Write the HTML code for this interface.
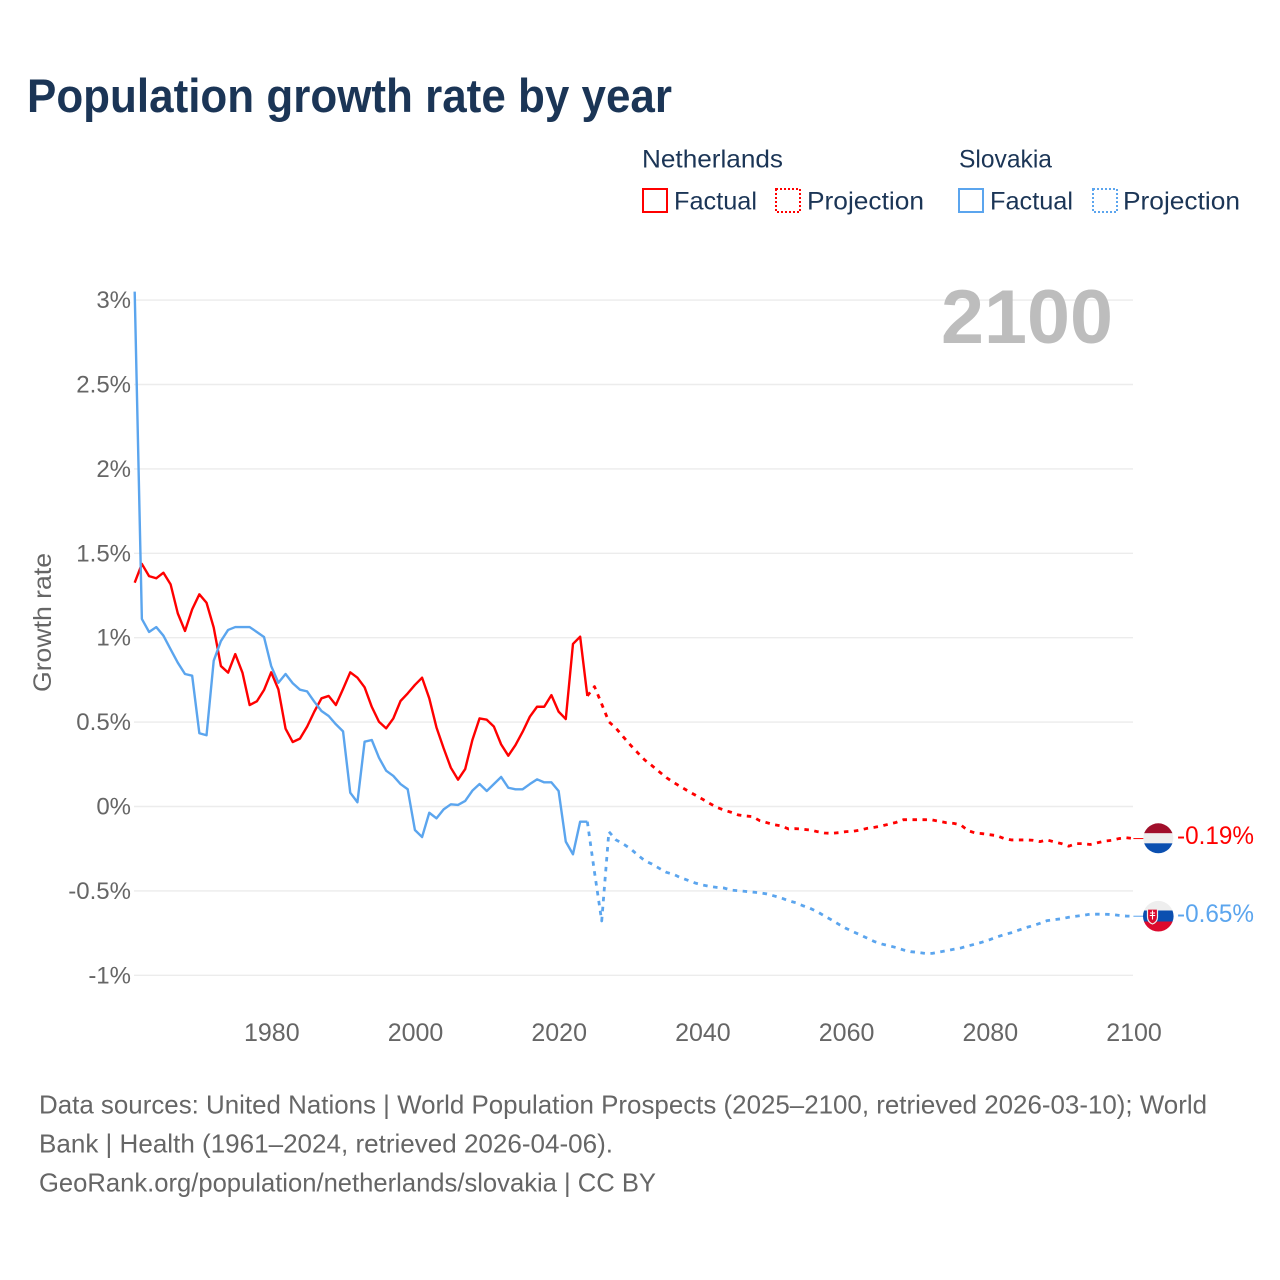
<!DOCTYPE html>
<html lang="en">
<head>
<meta charset="utf-8">
<title>Population growth rate by year</title>
<style>
  html, body { margin: 0; padding: 0; background: #fff; }
  svg { display: block; font-family: "Liberation Sans", sans-serif; }
</style>
</head>
<body>
<svg id="chart" xmlns="http://www.w3.org/2000/svg" width="1280" height="1280" viewBox="0 0 1280 1280">
  <rect width="1280" height="1280" fill="#fff"/>
  <text x="27" y="112" font-size="47" font-weight="700" fill="#1b3556" textLength="645" lengthAdjust="spacingAndGlyphs">Population growth rate by year</text>

  <g font-size="25" fill="#1b3556">
    <text x="642" y="167.5" textLength="141" lengthAdjust="spacingAndGlyphs">Netherlands</text>
    <text x="959" y="167.5" textLength="93" lengthAdjust="spacingAndGlyphs">Slovakia</text>
    <g>
      <rect x="643" y="189" width="24" height="23" fill="none" stroke="#ff0000" stroke-width="2"/>
      <text x="674" y="209.5" textLength="83" lengthAdjust="spacingAndGlyphs">Factual</text>
    </g>
    <g>
      <rect x="776" y="189" width="24" height="23" fill="none" stroke="#ff0000" stroke-width="2" stroke-dasharray="2 2"/>
      <text x="807" y="209.5" textLength="117" lengthAdjust="spacingAndGlyphs">Projection</text>
    </g>
    <g>
      <rect x="959" y="189" width="24" height="23" fill="none" stroke="#5ba5ee" stroke-width="2"/>
      <text x="990" y="209.5" textLength="83" lengthAdjust="spacingAndGlyphs">Factual</text>
    </g>
    <g>
      <rect x="1093" y="189" width="24" height="23" fill="none" stroke="#5ba5ee" stroke-width="2" stroke-dasharray="2 2"/>
      <text x="1123" y="209.5" textLength="117" lengthAdjust="spacingAndGlyphs">Projection</text>
    </g>
  </g>

  <g id="grid"></g>
  <g id="y-ticks" font-size="24" fill="#666" text-anchor="end"></g>
  <g id="x-ticks" font-size="25" fill="#666" text-anchor="middle"></g>
  <text transform="translate(51,622.5) rotate(-90)" font-size="25" fill="#666" text-anchor="middle" textLength="139" lengthAdjust="spacingAndGlyphs">Growth rate</text>
  <text x="1113" y="343" font-size="76" font-weight="700" fill="#bdbdbd" text-anchor="end" textLength="172" lengthAdjust="spacingAndGlyphs">2100</text>

  <g id="series" fill="none" stroke-linejoin="round"></g>

  <g>
    <clipPath id="clip-nl"><circle cx="1158.3" cy="838.3" r="15"/></clipPath>
    <g clip-path="url(#clip-nl)">
      <rect x="1143" y="823" width="31" height="10.3" fill="#a10f2b"/>
      <rect x="1143" y="833.3" width="31" height="10" fill="#eeeeee"/>
      <rect x="1143" y="843.3" width="31" height="11" fill="#0b4fb0"/>
    </g>
  </g>
  <g>
    <clipPath id="clip-sk"><circle cx="1158.3" cy="916.2" r="15.3"/></clipPath>
    <g clip-path="url(#clip-sk)">
      <rect x="1143" y="900" width="31" height="10.5" fill="#eeeeee"/>
      <rect x="1143" y="910.5" width="31" height="11" fill="#0b4fb0"/>
      <rect x="1143" y="921.5" width="31" height="11" fill="#dc0a2e"/>
      <path d="M1147.5 909 h10 v8 q0 5 -5 7 q-5 -2 -5 -7 z" fill="#dc0a2e" stroke="#eee" stroke-width="1.2"/>
      <path d="M1152.5 910.5 v9 M1150 913 h5 M1149.8 915.5 h5.4" stroke="#fff" stroke-width="1.1" fill="none"/>
    </g>
  </g>
  <text x="1177" y="844" font-size="25" fill="#ff0000" textLength="77" lengthAdjust="spacingAndGlyphs">-0.19%</text>
  <text x="1177" y="922" font-size="25" fill="#5ba5ee" textLength="77" lengthAdjust="spacingAndGlyphs">-0.65%</text>

  <g font-size="26" fill="#666">
    <text x="39" y="1113.5" textLength="1168" lengthAdjust="spacingAndGlyphs">Data sources: United Nations | World Population Prospects (2025–2100, retrieved 2026-03-10); World</text>
    <text x="39" y="1152.5" textLength="574" lengthAdjust="spacingAndGlyphs">Bank | Health (1961–2024, retrieved 2026-04-06).</text>
    <text x="39" y="1191.5" textLength="617" lengthAdjust="spacingAndGlyphs">GeoRank.org/population/netherlands/slovakia | CC BY</text>
  </g>
</svg>
<script>
const yTickValues = [3, 2.5, 2, 1.5, 1, 0.5, 0, -0.5, -1];
const xTickYears = [1980, 2000, 2020, 2040, 2060, 2080, 2100];
const factualStartYear = 1961;
const projectionStartYear = 2024;

const netherlandsFactual = [
  1.326,1.437,1.365,1.352,1.385,1.316,1.144,1.04,1.168,1.257,
  1.207,1.06,0.832,0.793,0.903,0.793,0.601,0.623,0.69,0.795,
  0.694,0.461,0.382,0.402,0.473,0.562,0.641,0.655,0.601,0.696,
  0.795,0.763,0.706,0.59,0.502,0.463,0.522,0.625,0.67,0.72,
  0.763,0.641,0.469,0.345,0.23,0.159,0.222,0.394,0.522,0.514,
  0.473,0.368,0.301,0.364,0.443,0.532,0.591,0.591,0.66,0.562,
  0.518,0.963,1.006,0.655
];
const slovakiaFactual = [
  3.05,1.111,1.034,1.063,1.012,0.931,0.852,0.785,0.775,0.434,
  0.422,0.864,0.98,1.046,1.063,1.063,1.063,1.034,1.004,0.832,
  0.733,0.785,0.73,0.692,0.682,0.621,0.566,0.536,0.487,0.445,
  0.082,0.025,0.384,0.394,0.289,0.212,0.181,0.133,0.102,-0.139,
  -0.181,-0.037,-0.07,-0.017,0.013,0.009,0.033,0.094,0.133,0.092,
  0.133,0.175,0.111,0.102,0.102,0.133,0.161,0.143,0.143,0.092,
  -0.208,-0.283,-0.09,-0.09
];
const netherlandsProjection = [
  0.655,0.71,0.607,0.502,0.463,0.413,0.364,
  0.319,0.275,0.242,0.206,0.171,0.143,0.117,0.092,0.068,0.044,
  0.019,-0.005,-0.021,-0.034,-0.05,-0.056,-0.06,-0.084,-0.096,-0.108,
  -0.115,-0.133,-0.131,-0.135,-0.139,-0.149,-0.157,-0.159,-0.155,-0.149,
  -0.147,-0.139,-0.129,-0.123,-0.115,-0.104,-0.094,-0.078,-0.078,-0.078,
  -0.078,-0.08,-0.088,-0.096,-0.1,-0.11,-0.143,-0.157,-0.161,-0.167,
  -0.173,-0.19,-0.198,-0.198,-0.198,-0.2,-0.208,-0.198,-0.21,-0.22,
  -0.235,-0.22,-0.22,-0.225,-0.215,-0.205,-0.2,-0.19,-0.185,-0.19
];
const slovakiaProjection = [
  -0.09,-0.39,-0.678,-0.149,-0.198,-0.222,-0.25,
  -0.287,-0.321,-0.341,-0.366,-0.39,-0.402,-0.422,-0.437,-0.453,-0.465,
  -0.473,-0.479,-0.483,-0.495,-0.499,-0.503,-0.507,-0.511,-0.518,-0.53,
  -0.542,-0.558,-0.57,-0.588,-0.603,-0.623,-0.649,-0.672,-0.698,-0.722,
  -0.742,-0.761,-0.781,-0.801,-0.815,-0.825,-0.836,-0.85,-0.86,-0.864,
  -0.87,-0.87,-0.862,-0.854,-0.846,-0.838,-0.826,-0.815,-0.803,-0.789,
  -0.773,-0.759,-0.748,-0.733,-0.718,-0.706,-0.692,-0.676,-0.67,-0.665,
  -0.656,-0.65,-0.645,-0.638,-0.638,-0.638,-0.64,-0.645,-0.649,-0.65
];

const SVG_NS = 'http://www.w3.org/2000/svg';
const xScale = function (year) { return 271.2 + (year - 1980) * 7.185; };
const yScale = function (value) { return 806.5 - value * 168.8; };

const gridGroup = document.getElementById('grid');
const yTickGroup = document.getElementById('y-ticks');
yTickValues.forEach(function (value) {
  const y = yScale(value);
  const line = document.createElementNS(SVG_NS, 'line');
  
  
  line.setAttribute('x1', 134);
  line.setAttribute('x2', 1133);
  line.setAttribute('y1', y);
  line.setAttribute('y2', y);
  line.setAttribute('stroke', '#ececec');
  line.setAttribute('stroke-width', 1.4);
  gridGroup.appendChild(line);
  const label = document.createElementNS(SVG_NS, 'text');
  
  
  label.setAttribute('x', 131);
  label.setAttribute('y', y + 8);
  label.textContent = value + '%';
  yTickGroup.appendChild(label);
});

const xTickGroup = document.getElementById('x-ticks');
xTickYears.forEach(function (year) {
  const label = document.createElementNS(SVG_NS, 'text');
  
  
  label.setAttribute('x', xScale(year) + 0.6);
  label.setAttribute('y', 1041);
  label.textContent = year;
  xTickGroup.appendChild(label);
});

function linePath(values, startYear) {
  return values.map(function (value, i) {
    return (i ? 'L' : 'M') + xScale(startYear + i).toFixed(2) + ' ' + yScale(value).toFixed(2);
  }).join(' ');
}

const seriesGroup = document.getElementById('series');

const nlFactualLine = document.createElementNS(SVG_NS, 'path');


nlFactualLine.setAttribute('d', linePath(netherlandsFactual, factualStartYear));
nlFactualLine.setAttribute('stroke', '#ff0000');
nlFactualLine.setAttribute('stroke-width', 2.4);
seriesGroup.appendChild(nlFactualLine);

const skFactualLine = document.createElementNS(SVG_NS, 'path');


skFactualLine.setAttribute('d', linePath(slovakiaFactual, factualStartYear));
skFactualLine.setAttribute('stroke', '#5ba5ee');
skFactualLine.setAttribute('stroke-width', 2.4);
seriesGroup.appendChild(skFactualLine);

const nlProjectionLine = document.createElementNS(SVG_NS, 'path');


nlProjectionLine.setAttribute('d', linePath(netherlandsProjection, projectionStartYear));
nlProjectionLine.setAttribute('stroke', '#ff0000');
nlProjectionLine.setAttribute('stroke-width', 2.8);
nlProjectionLine.setAttribute('stroke-dasharray', '4.5 5.5');
seriesGroup.appendChild(nlProjectionLine);

const skProjectionLine = document.createElementNS(SVG_NS, 'path');


skProjectionLine.setAttribute('d', linePath(slovakiaProjection, projectionStartYear));
skProjectionLine.setAttribute('stroke', '#5ba5ee');
skProjectionLine.setAttribute('stroke-width', 2.8);
skProjectionLine.setAttribute('stroke-dasharray', '4.5 5.5');
seriesGroup.appendChild(skProjectionLine);

const nlConnector = document.createElementNS(SVG_NS, 'line');


nlConnector.setAttribute('x1', xScale(2100));
nlConnector.setAttribute('x2', 1144);
nlConnector.setAttribute('y1', yScale(netherlandsProjection[netherlandsProjection.length - 1]));
nlConnector.setAttribute('y2', yScale(netherlandsProjection[netherlandsProjection.length - 1]));
nlConnector.setAttribute('stroke', '#ff0000');
nlConnector.setAttribute('stroke-width', 1);
seriesGroup.appendChild(nlConnector);

const skConnector = document.createElementNS(SVG_NS, 'line');


skConnector.setAttribute('x1', xScale(2100));
skConnector.setAttribute('x2', 1144);
skConnector.setAttribute('y1', yScale(slovakiaProjection[slovakiaProjection.length - 1]));
skConnector.setAttribute('y2', yScale(slovakiaProjection[slovakiaProjection.length - 1]));
skConnector.setAttribute('stroke', '#5ba5ee');
skConnector.setAttribute('stroke-width', 1);
seriesGroup.appendChild(skConnector);
</script>
</body>
</html>
